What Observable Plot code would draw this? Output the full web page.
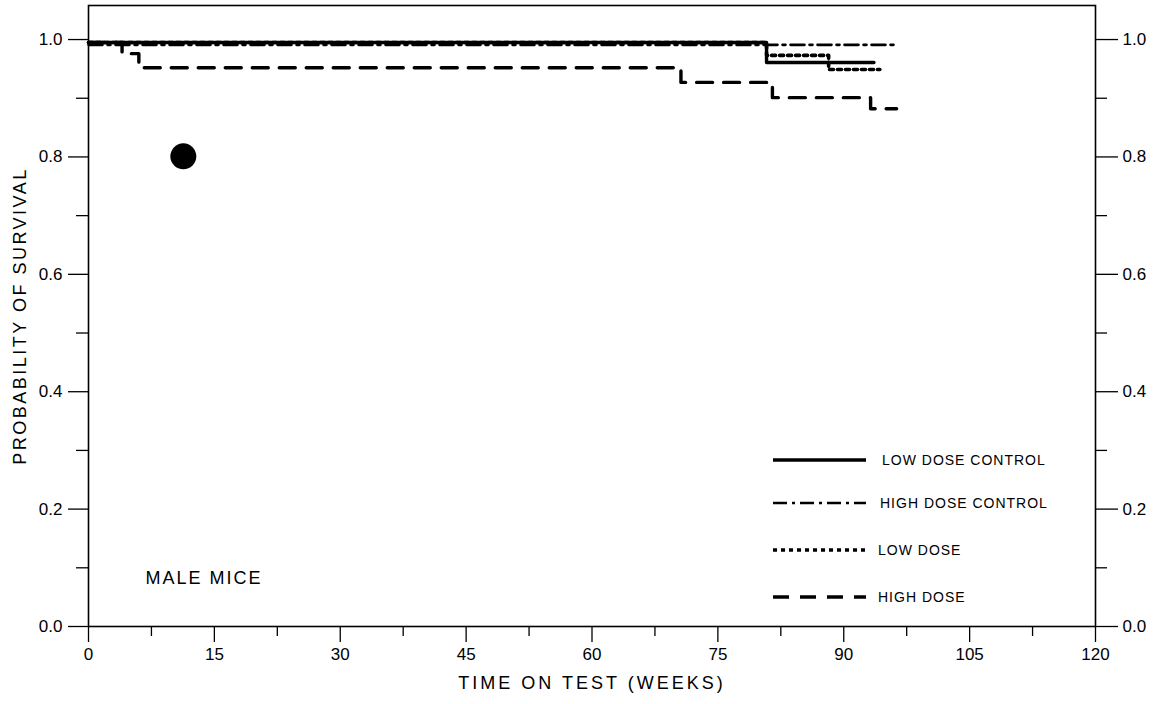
<!DOCTYPE html>
<html>
<head>
<meta charset="utf-8">
<script src="https://cdn.jsdelivr.net/npm/d3@7"></script>
<script src="https://cdn.jsdelivr.net/npm/@observablehq/plot@0.6"></script>
<style>
  body { margin: 0; background: #fff; }
  #chart { position: relative; width: 1157px; height: 704px; }
  svg { font-family: "Liberation Sans", Arial, sans-serif; color: #000; }
</style>
</head>
<body>
<div id="chart"></div>
<script>
// ---- data ----
const lowDoseControlT = [0, 80.8, 93.6];
const lowDoseControlS = [0.995, 0.961, 0.961];
const highDoseControlT = [0, 96.4];
const highDoseControlS = [0.991, 0.991];
const lowDoseT = [0, 80.8, 88.2, 94.3];
const lowDoseS = [0.995, 0.973, 0.949, 0.949];
const highDoseT = [0, 4.0, 6.0, 70.6, 81.5, 93.2, 96.3];
const highDoseS = [0.995, 0.976, 0.952, 0.927, 0.901, 0.882, 0.882];

const blotT = [11.3];
const blotS = [0.801];

const xMajorTicks = [0, 15, 30, 45, 60, 75, 90, 105, 120];
const xMinorTicks = [7.5, 22.5, 37.5, 52.5, 67.5, 82.5, 97.5, 112.5];
const yMajorTicks = [0, 0.2, 0.4, 0.6, 0.8, 1.0];
const yMinorTicks = [0.1, 0.3, 0.5, 0.7, 0.9];

const seriesNames = ["LOW DOSE CONTROL", "HIGH DOSE CONTROL", "LOW DOSE", "HIGH DOSE"];

// ---- build tables ----
const toRows = (ts, ss) => ts.map((t, i) => ({t, s: ss[i]}));
const ldc = toRows(lowDoseControlT, lowDoseControlS);
const hdc = toRows(highDoseControlT, highDoseControlS);
const ld = toRows(lowDoseT, lowDoseS);
const hd = toRows(highDoseT, highDoseS);
const blot = toRows(blotT, blotS);

const styles = [
  {stroke: "#000", strokeWidth: 3.4, strokeDasharray: null},
  {stroke: "#000", strokeWidth: 2.6, strokeDasharray: "14,5,3,5"},
  {stroke: "#000", strokeWidth: 3.6, strokeDasharray: "4,4"},
  {stroke: "#000", strokeWidth: 3.4, strokeDasharray: "16,11"}
];

const fmt = d3.format(".1f");
const noText = () => "";

const plot = Plot.plot({
  width: 1157,
  height: 704,
  marginLeft: 88,
  marginRight: 62,
  marginTop: 5,
  marginBottom: 78,
  x: {domain: [0, 120], axis: null},
  y: {domain: [0, 1.058], axis: null},
  style: {fontFamily: '"Liberation Sans", Arial, sans-serif', color: "#000", background: "#fff"},
  marks: [
    // left axis
    Plot.axisY(yMajorTicks, {anchor: "left", tickSize: 20, tickFormat: noText, strokeWidth: 1.3, label: null}),
    Plot.axisY(yMinorTicks, {anchor: "left", tickSize: 12, tickFormat: noText, strokeWidth: 1.3, label: null}),
    Plot.text(yMajorTicks, {y: d => d, text: fmt, frameAnchor: "left", dx: -26, textAnchor: "end", fontSize: 17}),
    // right axis
    Plot.axisY(yMajorTicks, {anchor: "right", tickSize: 22, tickFormat: noText, strokeWidth: 1.3, label: null}),
    Plot.axisY(yMinorTicks, {anchor: "right", tickSize: 11, tickFormat: noText, strokeWidth: 1.3, label: null}),
    Plot.text(yMajorTicks, {y: d => d, text: fmt, frameAnchor: "right", dx: 27, textAnchor: "start", fontSize: 17}),
    // bottom axis
    Plot.axisX(xMajorTicks, {anchor: "bottom", tickSize: 16, tickFormat: noText, strokeWidth: 1.3, label: null}),
    Plot.axisX(xMinorTicks, {anchor: "bottom", tickSize: 10, tickFormat: noText, strokeWidth: 1.3, label: null}),
    Plot.text(xMajorTicks, {x: d => d, text: d => String(d), frameAnchor: "bottom", dy: 33, fontSize: 17}),
    Plot.frame({stroke: "#000", strokeWidth: 1.6}),
    // survival curves
    Plot.line(ldc, {x: "t", y: "s", curve: "step-after", ...styles[0]}),
    Plot.line(hdc, {x: "t", y: "s", curve: "step-after", ...styles[1]}),
    Plot.line(ld, {x: "t", y: "s", curve: "step-after", ...styles[2]}),
    Plot.line(hd, {x: "t", y: "s", curve: "step-after", ...styles[3]}),
    // ink blot in the scan
    Plot.dot(blot, {x: "t", y: "s", r: 13, fill: "#000", stroke: null}),
    // texts
    Plot.text(["MALE MICE"], {frameAnchor: "bottom-left", dx: 57, dy: -43, textAnchor: "start", fontSize: 18}),
    Plot.text(["TIME ON TEST (WEEKS)"], {frameAnchor: "bottom", dy: 62, fontSize: 18}),
    Plot.text(["PROBABILITY OF SURVIVAL"], {frameAnchor: "left", rotate: -90, dx: -68, dy: 0, textAnchor: "middle", fontSize: 18})
  ]
});

document.getElementById("chart").appendChild(plot);

// letter spacing for the typewriter-like captions
const svg = d3.select(plot);
svg.selectAll("text").each(function() {
  const t = this.textContent;
  if (t === "TIME ON TEST (WEEKS)") d3.select(this).attr("letter-spacing", 3);
  if (t === "PROBABILITY OF SURVIVAL") d3.select(this).attr("letter-spacing", 2.5);
  if (t === "MALE MICE") d3.select(this).attr("letter-spacing", 2);
});

// legend drawn inside the plot's svg
const legendRowsY = [460, 503, 550, 597];
const legendLabelX = [882, 880, 878, 878];
const lg = svg.append("g").attr("text-anchor", "start");
seriesNames.forEach((name, i) => {
  const st = styles[i];
  lg.append("line")
    .attr("x1", 773).attr("x2", 866)
    .attr("y1", legendRowsY[i]).attr("y2", legendRowsY[i])
    .attr("stroke", st.stroke).attr("stroke-width", st.strokeWidth)
    .attr("stroke-dasharray", st.strokeDasharray);
  lg.append("text")
    .attr("x", legendLabelX[i]).attr("y", legendRowsY[i] + 5)
    .attr("font-size", 14).attr("letter-spacing", 1)
    .attr("text-anchor", "start")
    .attr("fill", "#000")
    .text(name);
});
</script>
</body>
</html>
